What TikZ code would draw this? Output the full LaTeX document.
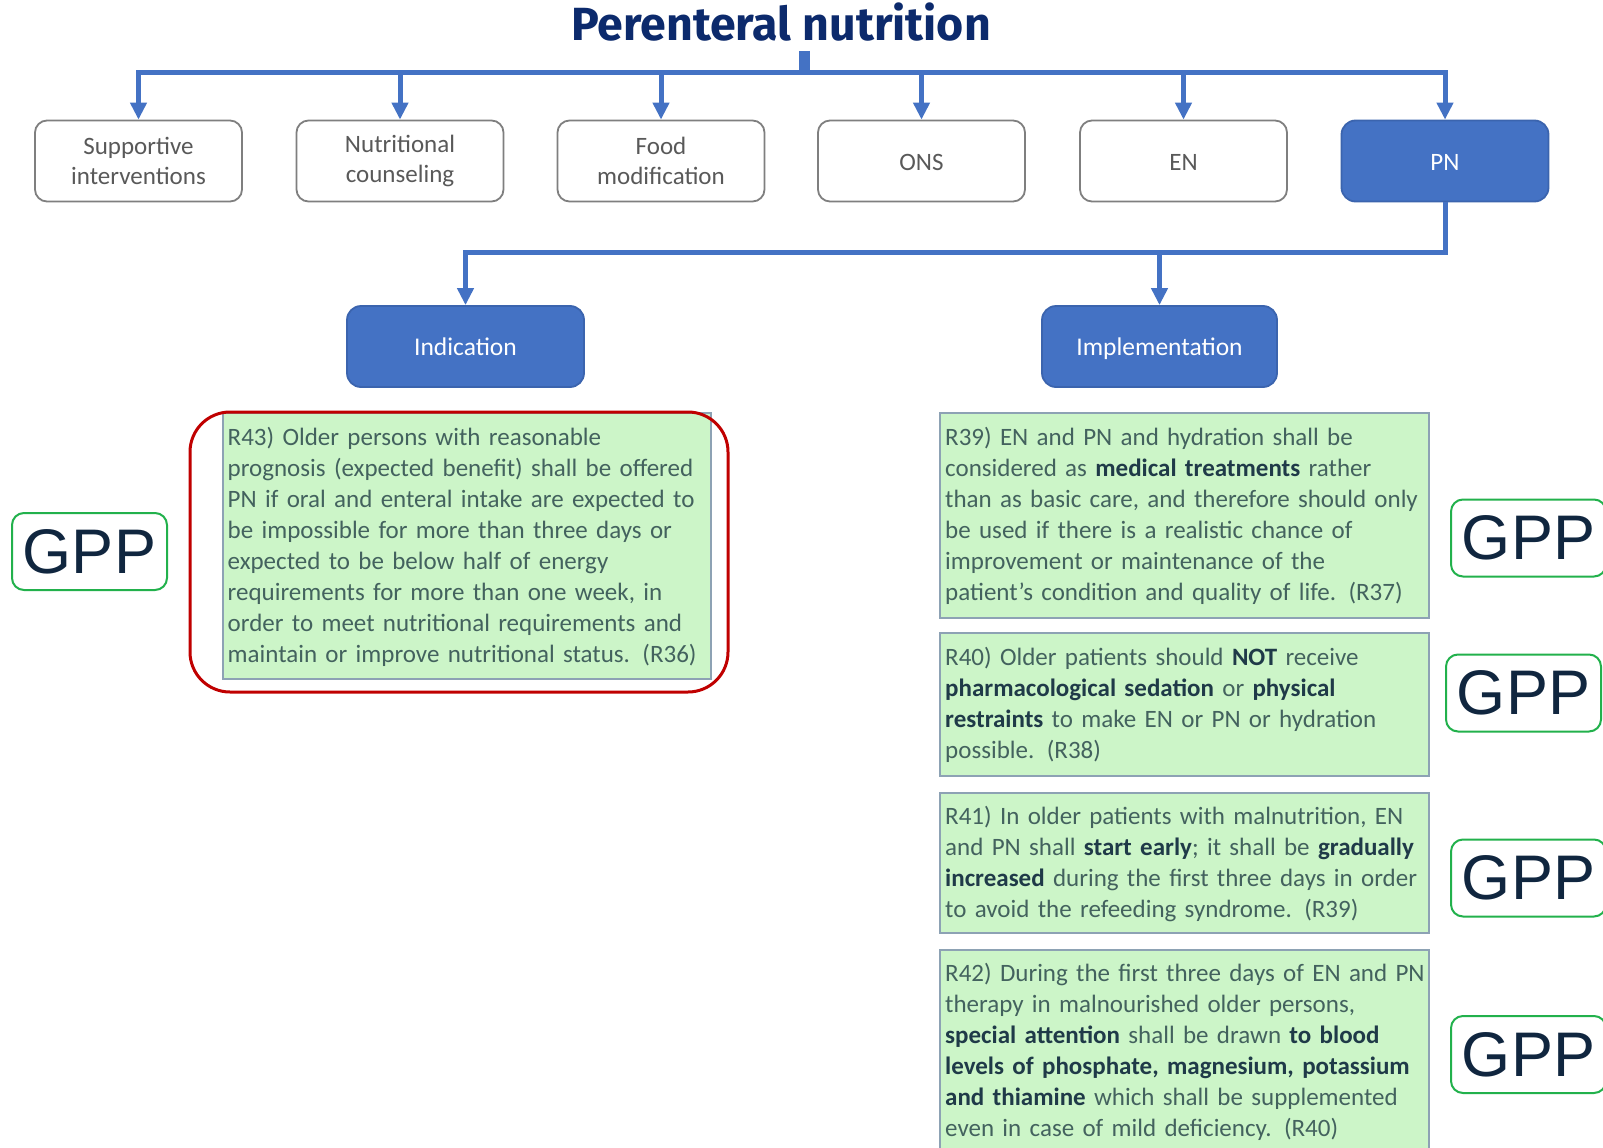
\documentclass[tikz,border=0pt]{standalone}
\usepackage{fontspec}
\setmainfont{Carlito}
\newfontfamily\gppfont{Liberation Sans}
\newfontfamily\titlefont{Fira Sans}
\usetikzlibrary{arrows.meta}
\definecolor{conn}{HTML}{4472C4}
\definecolor{boxblue}{HTML}{4472C4}
\definecolor{boxblueline}{HTML}{3B64AE}
\definecolor{tgray}{HTML}{595959}
\definecolor{bgray}{HTML}{7F7F7F}
\definecolor{gfill}{HTML}{CCF5C8}
\definecolor{gline}{HTML}{8DA2B4}
\definecolor{gtextc}{HTML}{43625E}
\definecolor{gbold}{HTML}{1F3A48}
\definecolor{titlec}{HTML}{0C2A6C}
\definecolor{gppline}{HTML}{22B14C}
\definecolor{gpptext}{HTML}{10263F}
\definecolor{hlred}{HTML}{C00000}
\newcommand{\bt}[1]{{\bfseries\color{gbold}#1}}
\begin{document}
\begin{tikzpicture}[x=1pt,y=-1pt,
  tbox/.style={draw=bgray, line width=1.8pt, rounded corners=12pt, fill=white,
    minimum width=207pt, minimum height=81pt, align=center, text=tgray,
    font=\fontsize{25}{30}\selectfont, inner sep=0pt},
  oneline/.style={text height=23pt, text depth=5pt},
  fbox/.style={tbox, fill=boxblue, draw=boxblueline, text=white, rounded corners=14pt},
  gbox/.style={draw=gline, line width=2pt, fill=gfill, anchor=north west, inner sep=0pt},
  gtext/.style={anchor=north west, inner sep=0pt, text width=490pt, align=left,
    text=gtextc, font=\fontsize{25}{31}\selectfont},
  gpp/.style={draw=gppline, line width=2pt, rounded corners=12pt, fill=white,
    minimum width=155pt, minimum height=77pt, inner sep=0pt, text=gpptext,
    font=\gppfont\fontsize{63}{63}\selectfont},
  bus/.style={draw=conn, line width=5pt},
  arr/.style={draw=conn, line width=5pt, -{Triangle[width=16pt,length=17pt]}}
]
\clip (0,0) rectangle (1603,1148);
\fill[white] (0,0) rectangle (1603,1148);

% title
\node[anchor=base, inner sep=0pt, text=titlec, font=\titlefont\bfseries\fontsize{46.5}{46.5}\selectfont] (title) at (781,41) {Perenteral nutrition};
\coordinate (stubtop) at (804,51);
\coordinate (hub) at (804,75);
\draw[draw=conn, line width=11pt] (stubtop) -- (hub);

% top boxes
\node[tbox] (sup)  at (138.5,161) {Supportive\\interventions};
\node[tbox] (nut)  at (400,161) {Nutritional\\counseling};
\node[tbox] (food) at (661,161) {Food\\modification};
\node[tbox, oneline] (ons)  at (921.5,161) {ONS};
\node[tbox, oneline] (en)   at (1183.5,161) {EN};
\node[fbox, oneline] (pn)   at (1445,161) {PN};

\coordinate (busy) at (0,72.5);
\draw[bus, line cap=rect] (sup.north |- busy) -- (pn.north |- busy);
\foreach \n in {sup,nut,food,ons,en,pn}
  \draw[arr] (\n.north |- busy) -- (\n.north);

% second level
\node[fbox, oneline, font=\fontsize{25.5}{30}\selectfont, minimum width=237pt, minimum height=81pt] (ind) at (465.5,346.5) {Indication};
\node[fbox, oneline, font=\fontsize{25.5}{30}\selectfont, minimum width=235pt, minimum height=81pt] (imp) at (1159.5,346.5) {Implementation};
\coordinate (midy) at (0,252);
\draw[arr] (pn.south) -- (pn.south |- midy) -| (ind.north);
\draw[arr] (imp.north |- midy) -- (imp.north);

% R43
\node[gbox, minimum width=488pt, minimum height=266pt] (r43) at (222,412) {};
\node[gtext] (r43t) at (227.5,423.3) {\strut R43) Older persons with reasonable\\
prognosis (expected benefit) shall be offered\\
PN if oral and enteral intake are expected to\\
be impossible for more than three days or\\
expected to be below half of energy\\
requirements for more than one week, in\\
order to meet nutritional requirements and\\
maintain or improve nutritional status. (R36)};
\node[draw=hlred, line width=3pt, rounded corners=40pt, minimum width=538pt, minimum height=280pt, inner sep=0pt] (hl) at (459,552) {};

% R39
\node[gbox, minimum width=489pt, minimum height=205pt] (r39) at (938.5,412) {};
\node[gtext] (r39t) at (945,423.3) {\strut R39) EN and PN and hydration shall be\\
considered as \bt{medical treatments} rather\\
than as basic care, and therefore should only\\
be used if there is a realistic chance of\\
improvement or maintenance of the\\
patient’s condition and quality of life. (R37)};

% R40
\node[gbox, minimum width=489pt, minimum height=143pt] (r40) at (938.5,632) {};
\node[gtext] (r40t) at (945,643.3) {\strut R40) Older patients should \bt{NOT} receive\\
\bt{pharmacological sedation} or \bt{physical}\\
\bt{restraints} to make EN or PN or hydration\\
possible. (R38)};

% R41
\node[gbox, minimum width=489pt, minimum height=140pt] (r41) at (938.5,792) {};
\node[gtext] (r41t) at (945,802.3) {\strut R41) In older patients with malnutrition, EN\\
and PN shall \bt{start early}; it shall be \bt{gradually}\\
\bt{increased} during the first three days in order\\
to avoid the refeeding syndrome. (R39)};

% R42
\node[gbox, minimum width=489pt, minimum height=230pt] (r42) at (938.5,949) {};
\node[gtext] (r42t) at (945,959.3) {\strut R42) During the first three days of EN and PN\\
therapy in malnourished older persons,\\
\bt{special attention} shall be drawn \bt{to blood}\\
\bt{levels of phosphate, magnesium, potassium}\\
\bt{and thiamine} which shall be supplemented\\
even in case of mild deficiency. (R40)};

% GPP labels
\node[gpp] (g43) at (89.5,551.5) {GPP};
\node[gpp] (g39) at (1528.5,538) {GPP};
\node[gpp] (g40) at (1523.5,693) {GPP};
\node[gpp] (g41) at (1528.5,878) {GPP};
\node[gpp] (g42) at (1528.5,1054.5) {GPP};
\end{tikzpicture}
\end{document}
